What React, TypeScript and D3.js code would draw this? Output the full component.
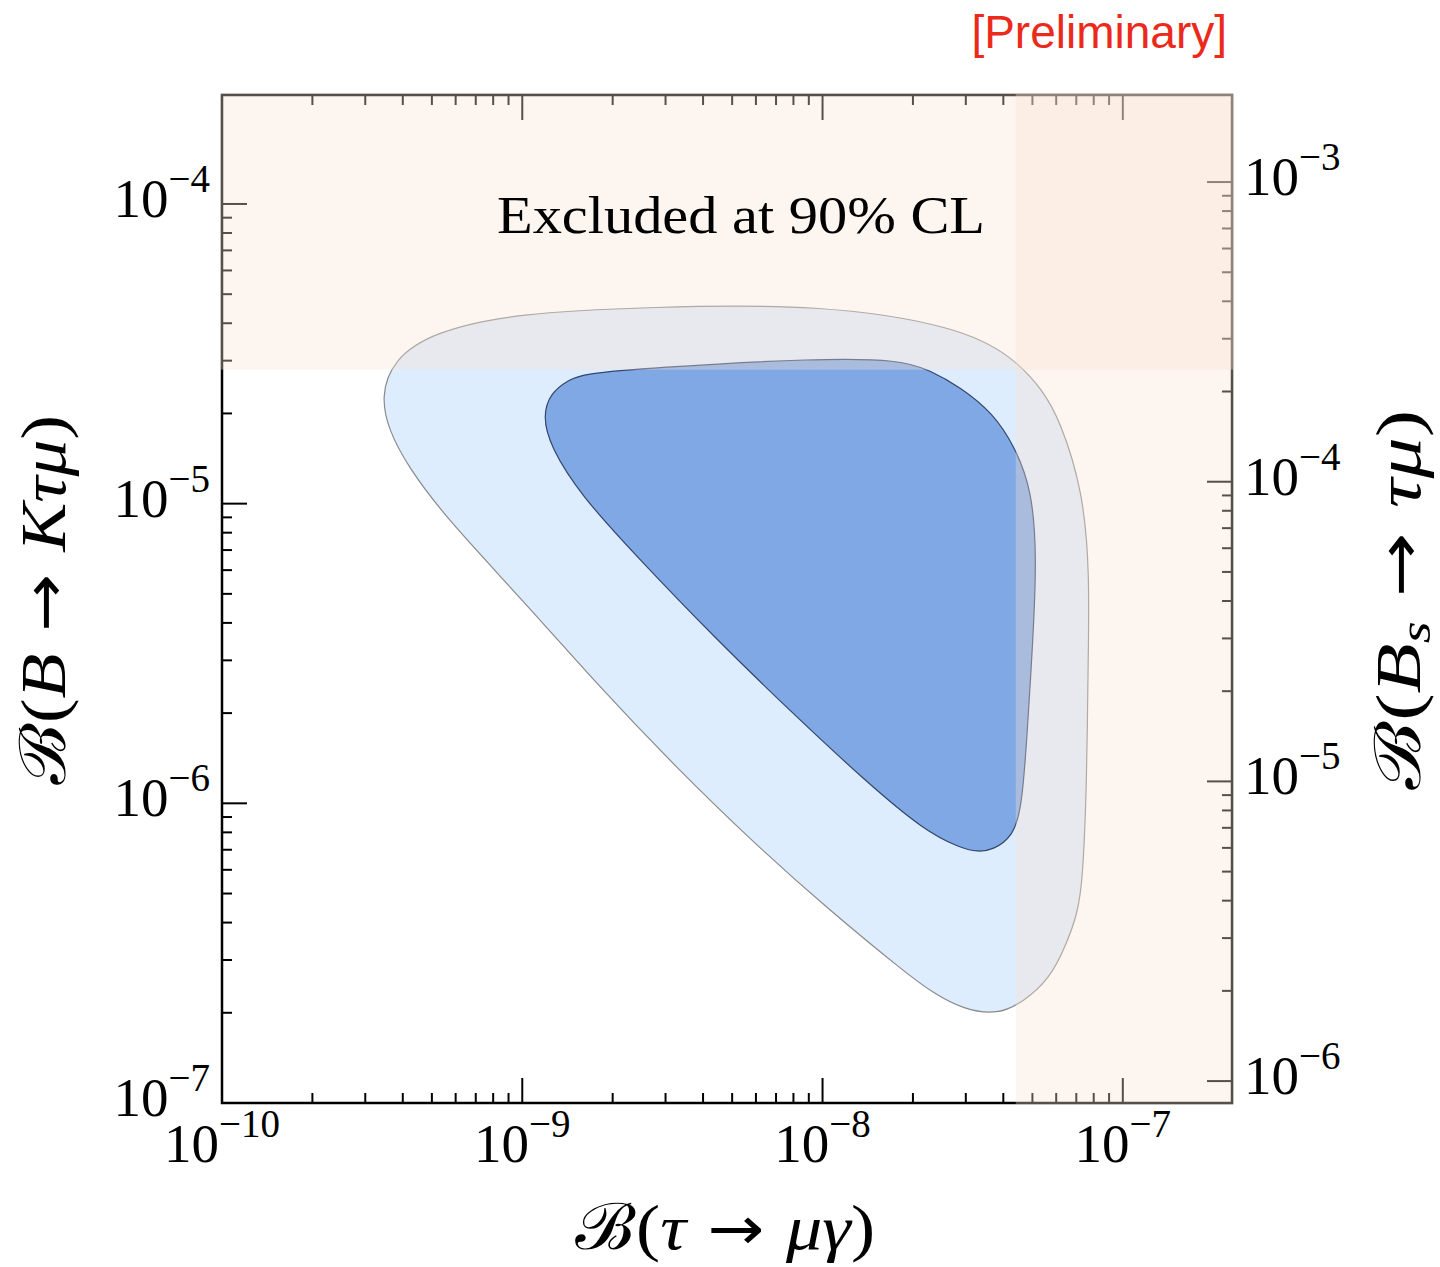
import React from "react";
import * as d3 from "d3";

// ---- data ----
const xDomain: [number, number] = [1e-10, 2.31e-7];
const yDomain: [number, number] = [1e-7, 2.31e-4];
const bsRatio = 8.45; // B(Bs -> tau mu) / B(B -> K tau mu)
const xMajor = [1e-10, 1e-9, 1e-8, 1e-7];
const xMajorExp = ["10", "9", "8", "7"];
const yMajor = [1e-7, 1e-6, 1e-5, 1e-4];
const yMajorExp = ["7", "6", "5", "4"];
const yRightMajor = [1e-6, 1e-5, 1e-4, 1e-3];
const yRightMajorExp = ["6", "5", "4", "3"];
const limitTauMuGamma = 4.4e-8;
const limitBKTauMu = 2.8e-5;

// contours: [B(tau->mu gamma), B(B->K tau mu)]
const outer95: [number, number][] = [
  [3.38e-10, 2.27e-5],
  [3.71e-10, 3.02e-5],
  [5.04e-10, 3.74e-5],
  [9.6e-10, 4.33e-5],
  [2.66e-9, 4.53e-5],
  [9.8e-9, 4.64e-5],
  [2.87e-8, 3.89e-5],
  [4.3e-8, 3.09e-5],
  [5.42e-8, 2.39e-5],
  [6.17e-8, 1.9e-5],
  [7.36e-8, 1.11e-5],
  [7.76e-8, 5.87e-6],
  [7.65e-8, 2.72e-6],
  [7.59e-8, 1.2e-6],
  [7.36e-8, 5.55e-7],
  [7.07e-8, 4.3e-7],
  [6.47e-8, 3.36e-7],
  [5.71e-8, 2.6e-7],
  [4.68e-8, 2.18e-7],
  [3.84e-8, 1.97e-7],
  [2.95e-8, 2.05e-7],
  [2.33e-8, 2.33e-7],
  [1.89e-8, 2.72e-7],
  [1.05e-8, 4.41e-7],
  [5.86e-9, 7.43e-7],
  [3.25e-9, 1.32e-6],
  [1.81e-9, 2.44e-6],
  [1.01e-9, 4.73e-6],
  [5.57e-10, 8.96e-6],
  [4.16e-10, 1.33e-5],
  [3.6e-10, 1.75e-5],
];

const inner68: [number, number][] = [
  [1.43e-9, 2.59e-5],
  [1.59e-9, 2.71e-5],
  [2.66e-9, 2.84e-5],
  [9.8e-9, 3.06e-5],
  [1.81e-8, 3.02e-5],
  [2.28e-8, 2.79e-5],
  [2.87e-8, 2.45e-5],
  [3.69e-8, 2.01e-5],
  [4.37e-8, 1.55e-5],
  [4.98e-8, 1.11e-5],
  [5.17e-8, 6.64e-6],
  [5.02e-8, 3.51e-6],
  [4.79e-8, 1.63e-6],
  [4.61e-8, 9.72e-7],
  [4.3e-8, 7.72e-7],
  [3.69e-8, 6.99e-7],
  [3.29e-8, 6.88e-7],
  [2.87e-8, 7.1e-7],
  [2.19e-8, 8.09e-7],
  [1.41e-8, 1.17e-6],
  [7.85e-9, 2.02e-6],
  [4.35e-9, 3.59e-6],
  [2.43e-9, 6.59e-6],
  [1.56e-9, 1.07e-5],
  [1.24e-9, 1.55e-5],
  [1.17e-9, 1.96e-5],
  [1.24e-9, 2.34e-5],
];

// ---- layout ----
const W = 1440;
const H = 1267;
const L = 222;
const R = 1232;
const T = 95;
const B = 1103;
const SERIF = "'Liberation Serif', 'DejaVu Serif', serif";
const ARROWFONT = "'DejaVu Sans', sans-serif";

function minors(majors: number[]) {
  const out: number[] = [];
  for (let i = 0; i < majors.length - 1; i++) {
    for (let k = 2; k <= 9; k++) out.push(majors[i] * k);
  }
  return out;
}

export default function App() {
  const x = d3.scaleLog().domain(xDomain).range([L, R]);
  const y = d3.scaleLog().domain(yDomain).range([B, T]);
  const yR = d3
    .scaleLog()
    .domain([yDomain[0] * bsRatio, yDomain[1] * bsRatio])
    .range([B, T]);

  const line = d3
    .line<[number, number]>()
    .x((d) => x(d[0]))
    .y((d) => y(d[1]))
    .curve(d3.curveBasisClosed);

  const xMin = minors(xMajor);
  const yMin = minors(yMajor);
  const yRMin = minors(yRightMajor);
  const MAJ = 25;
  const MIN = 10;
  const tickW = 2;
  const bandFill = "rgb(249,226,209)";
  const bandOp = 0.35;
  const sw = 2.5;

  const fs = 55;
  const sfs = 39;

  return (
    <svg
      width={W}
      height={H}
      style={{ position: "absolute", left: 0, top: 0, background: "#fff" }}
    >
      <rect x={0} y={0} width={W} height={H} fill="#fff" />
      {/* contours */}
      <path d={line(outer95) || ""} fill="rgb(221,237,253)" stroke="#8a8a8a" strokeWidth={1.2} />
      <path d={line(inner68) || ""} fill="rgb(128,168,228)" stroke="#34466b" strokeWidth={1.2} />

      {/* ticks */}
      <g stroke="#000" strokeWidth={tickW}>
        {xMajor.map((v, i) => (
          <g key={"xm" + i}>
            <line x1={x(v)} x2={x(v)} y1={B} y2={B - MAJ} />
            <line x1={x(v)} x2={x(v)} y1={T} y2={T + MAJ} />
          </g>
        ))}
        {xMin.map((v, i) => (
          <g key={"xn" + i}>
            <line x1={x(v)} x2={x(v)} y1={B} y2={B - MIN} />
            <line x1={x(v)} x2={x(v)} y1={T} y2={T + MIN} />
          </g>
        ))}
        {yMajor.map((v, i) => (
          <line key={"ym" + i} x1={L} x2={L + MAJ} y1={y(v)} y2={y(v)} />
        ))}
        {yMin.map((v, i) => (
          <line key={"yn" + i} x1={L} x2={L + MIN} y1={y(v)} y2={y(v)} />
        ))}
        {yRightMajor.map((v, i) => (
          <line key={"rm" + i} x1={R} x2={R - MAJ} y1={yR(v)} y2={yR(v)} />
        ))}
        {yRMin.map((v, i) => (
          <line key={"rn" + i} x1={R} x2={R - MIN} y1={yR(v)} y2={yR(v)} />
        ))}
      </g>
      {/* frame */}
      <rect x={L} y={T} width={R - L} height={B - T} fill="none" stroke="#000" strokeWidth={sw} />

      {/* excluded regions */}
      <rect
        x={L - sw / 2}
        y={T - sw / 2}
        width={R - L + sw}
        height={y(limitBKTauMu) - T + sw / 2}
        fill={bandFill}
        fillOpacity={bandOp}
      />
      <rect
        x={x(limitTauMuGamma)}
        y={T - sw / 2}
        width={R + sw / 2 - x(limitTauMuGamma)}
        height={B - T + sw}
        fill={bandFill}
        fillOpacity={bandOp}
      />

      <text
        x={497}
        y={233}
        fontFamily={SERIF}
        fontSize={52}
        textLength={488}
        lengthAdjust="spacingAndGlyphs"
        fill="#000"
      >
        Excluded at 90% CL
      </text>

      {/* tick labels */}
      <g fontFamily={SERIF} fill="#000">
        {xMajor.map((v, i) => (
          <text key={"xl" + i} x={x(v)} y={B + 59} textAnchor="middle" fontSize={fs}>
            <tspan>10</tspan>
            <tspan dy={-25} fontSize={sfs}>
              {"\u2212" + xMajorExp[i]}
            </tspan>
          </text>
        ))}
        {yMajor.map((v, i) => (
          <text key={"yl" + i} x={210} y={y(v) + 13} textAnchor="end" fontSize={fs}>
            <tspan>10</tspan>
            <tspan dy={-25} fontSize={sfs}>
              {"\u2212" + yMajorExp[i]}
            </tspan>
          </text>
        ))}
        {yRightMajor.map((v, i) => (
          <text key={"rl" + i} x={1244} y={yR(v) + 13} textAnchor="start" fontSize={fs}>
            <tspan>10</tspan>
            <tspan dy={-25} fontSize={sfs}>
              {"\u2212" + yRightMajorExp[i]}
            </tspan>
          </text>
        ))}
      </g>

      {/* axis titles */}
      <text
        x={725}
        y={1249}
        textAnchor="middle"
        fontFamily={SERIF}
        fontSize={64}
        textLength={300}
        lengthAdjust="spacingAndGlyphs"
      >
        <tspan>{"\u212C("}</tspan>
        <tspan fontStyle="italic">{"\u03C4"}</tspan>
        <tspan fontFamily={ARROWFONT} fontSize={60}>{" \u2192 "}</tspan>
        <tspan fontStyle="italic">{"\u03BC\u03B3"}</tspan>
        <tspan>)</tspan>
      </text>
      <text
        transform={`translate(65,600) rotate(-90)`}
        textAnchor="middle"
        fontFamily={SERIF}
        fontSize={64}
        textLength={370}
        lengthAdjust="spacingAndGlyphs"
      >
        <tspan>{"\u212C("}</tspan>
        <tspan fontStyle="italic">B</tspan>
        <tspan fontFamily={ARROWFONT} fontSize={60}>{" \u2192 "}</tspan>
        <tspan fontStyle="italic">{"K\u03C4\u03BC"}</tspan>
        <tspan>)</tspan>
      </text>
      <text
        transform={`translate(1420,600) rotate(-90)`}
        textAnchor="middle"
        fontFamily={SERIF}
        fontSize={64}
        textLength={380}
        lengthAdjust="spacingAndGlyphs"
      >
        <tspan>{"\u212C("}</tspan>
        <tspan fontStyle="italic">B</tspan>
        <tspan fontStyle="italic" fontSize={44} dy={10}>
          s
        </tspan>
        <tspan dy={-10} fontFamily={ARROWFONT} fontSize={60}>{" \u2192 "}</tspan>
        <tspan fontStyle="italic">{"\u03C4\u03BC"}</tspan>
        <tspan>)</tspan>
      </text>

      <text
        x={1227}
        y={48}
        textAnchor="end"
        fontFamily="'Liberation Sans', Arial, sans-serif"
        fontSize={46}
        fill="#ec2a1c"
      >
        [Preliminary]
      </text>
    </svg>
  );
}
